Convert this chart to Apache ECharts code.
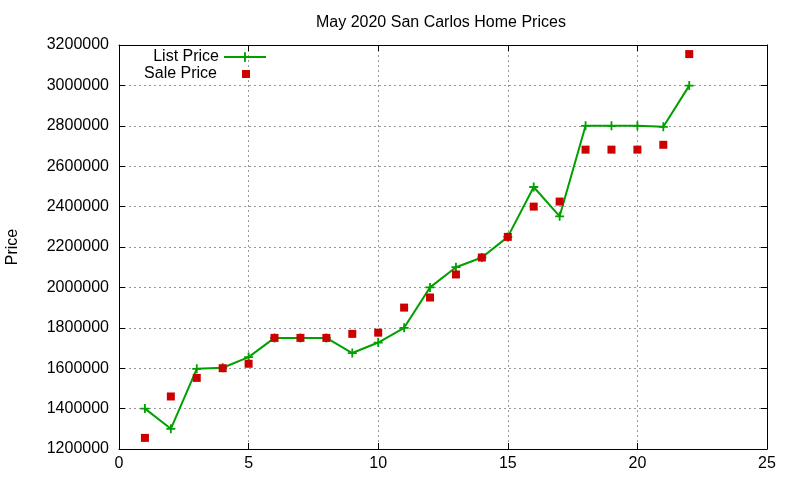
<!DOCTYPE html>
<html>
<head>
<meta charset="utf-8">
<script src="https://cdn.jsdelivr.net/npm/echarts@6/dist/echarts.min.js"></script>
<style>
  html, body { margin: 0; padding: 0; background: #fff; }
  #chart { width: 800px; height: 480px; }
</style>
</head>
<body>
<div id="chart"></div>
<script>
// house index (1..22) and prices
const houses = [1, 2, 3, 4, 5, 6, 7, 8, 9, 10, 11, 12, 13, 14, 15, 16, 17, 18, 19, 20, 21, 22];
const listPrice = [1400000, 1300000, 1597000, 1602000, 1655000, 1750000, 1750000, 1750000, 1675000, 1727000,
                   1800000, 2000000, 2100000, 2148000, 2250000, 2497000, 2352000, 2800000, 2800000, 2800000,
                   2795000, 2999000];
const salePrice = [1255000, 1460000, 1552000, 1600000, 1622000, 1750000, 1750000, 1750000, 1770000, 1776000,
                   1900000, 1950000, 2064000, 2148000, 2250000, 2400000, 2425000, 2682000, 2682000, 2682000,
                   2706000, 3155000];
const xTicks = [0, 25, 5];                 // min, max, step
const yTicks = [1200000, 3200000, 200000]; // min, max, step

const font = 'Liberation Sans, Arial, sans-serif';
const plus = 'path://M4,0H6V4H10V6H6V10H4V6H0V4H4Z';

const chart = echarts.init(document.getElementById('chart'), null, { renderer: 'canvas' });

const gridLine = { show: true, lineStyle: { color: '#999', type: [2, 3], width: 1 } };
const border = { show: true, onZero: false, lineStyle: { color: '#000', width: 1 } };
const ticks = { show: true, inside: true, length: 6, lineStyle: { color: '#000' } };

chart.setOption({
    animation: false,
    backgroundColor: '#fff',
    textStyle: { fontFamily: font },
    title: {
        text: 'May 2020 San Carlos Home Prices',
        left: 311,
        top: 10,
        textStyle: { fontFamily: font, fontSize: 16, fontWeight: 'normal', color: '#000' }
    },
    legend: [{
        data: ['List Price'],
        orient: 'vertical',
        align: 'right',
        right: 533,
        top: 49,
        padding: 0,
        itemWidth: 42,
        itemHeight: 12,
        textStyle: { fontFamily: font, fontSize: 16, color: '#000' }
    }, {
        data: ['Sale Price'],
        orient: 'vertical',
        align: 'right',
        right: 550,
        top: 66,
        padding: 0,
        itemWidth: 8,
        itemHeight: 8,
        textStyle: { fontFamily: font, fontSize: 16, color: '#000', padding: [0, 20, 0, 0] }
    }],
    grid: { left: 119, right: 33, top: 45, bottom: 31, outerBoundsMode: 'none' },
    xAxis: [{
        type: 'value',
        min: xTicks[0], max: xTicks[1], interval: xTicks[2],
        axisLine: border, axisTick: ticks, splitLine: gridLine,
        axisLabel: { margin: 7, fontSize: 16, color: '#000', fontFamily: font }
    }, {
        type: 'value', position: 'top',
        min: xTicks[0], max: xTicks[1], interval: xTicks[2],
        axisLine: border, axisTick: ticks, splitLine: { show: false },
        axisLabel: { show: false }
    }],
    yAxis: [{
        type: 'value',
        min: yTicks[0], max: yTicks[1], interval: yTicks[2],
        name: 'Price',
        nameLocation: 'middle',
        nameGap: 98,
        nameTextStyle: { fontSize: 16, color: '#000', fontFamily: font },
        axisLine: border, axisTick: ticks, splitLine: gridLine,
        axisLabel: { margin: 10, fontSize: 16, color: '#000', fontFamily: font,
                     formatter: v => String(v) }
    }, {
        type: 'value', position: 'right',
        min: yTicks[0], max: yTicks[1], interval: yTicks[2],
        axisLine: border, axisTick: ticks, splitLine: { show: false },
        axisLabel: { show: false }
    }],
    series: [{
        name: 'List Price',
        type: 'line',
        data: houses.map((h, i) => [h, listPrice[i]]),
        symbol: plus,
        symbolSize: 9,
        showAllSymbol: true,
        color: '#00a000',
        lineStyle: { color: '#00a000', width: 2 },
        itemStyle: { color: '#00a000' },
        z: 2
    }, {
        name: 'Sale Price',
        type: 'scatter',
        data: houses.map((h, i) => [h, salePrice[i]]),
        symbol: 'rect',
        symbolSize: 8,
        itemStyle: { color: '#cc0000', opacity: 1 },
        z: 3
    }]
});
</script>
</body>
</html>
